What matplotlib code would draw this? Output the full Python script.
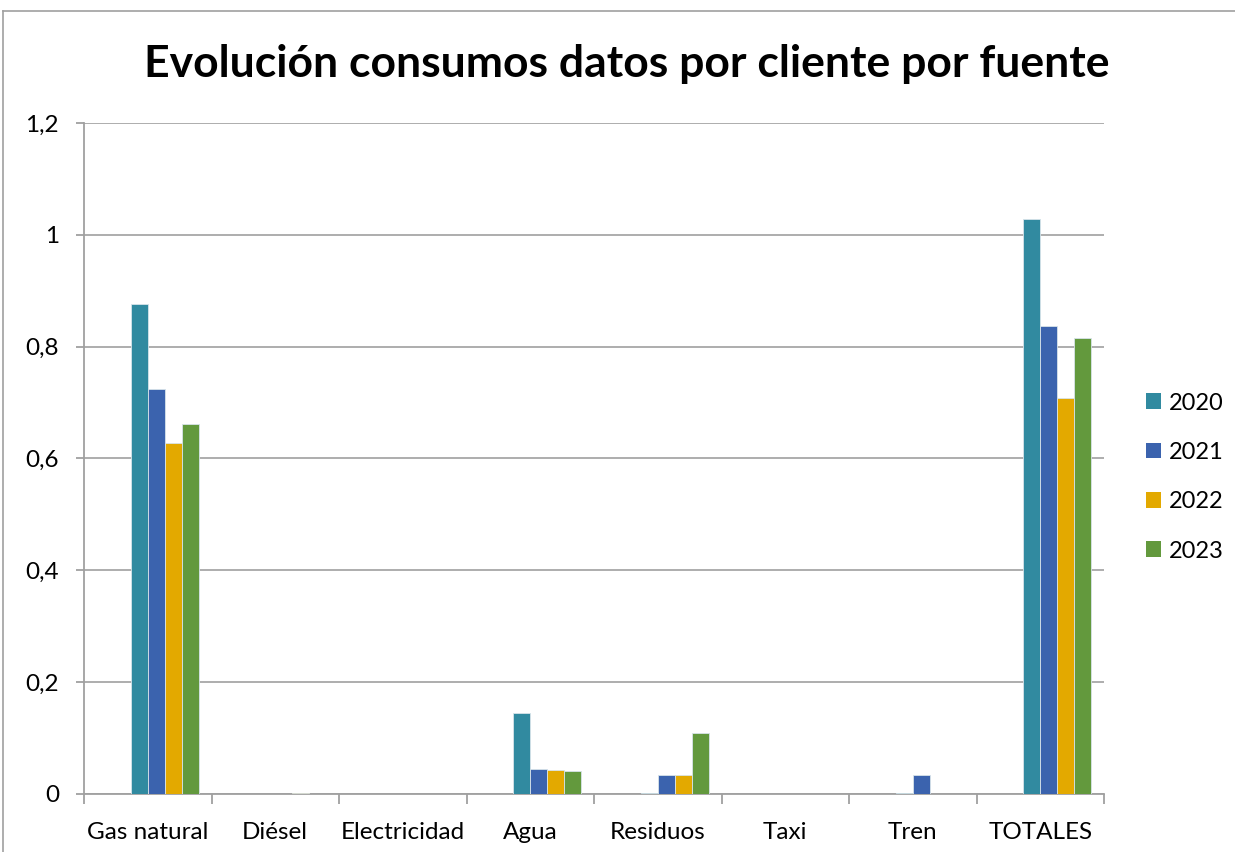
import matplotlib.pyplot as plt
from matplotlib.lines import Line2D
from matplotlib.patches import Patch
import numpy as np

# Datos
categorias = ['Gas natural', 'Diésel', 'Electricidad', 'Agua', 'Residuos', 'Taxi', 'Tren', 'TOTALES']
anios = ['2020', '2021', '2022', '2023']
v2020 = [0.877, 0.0, 0.0, 0.145, 0.002, 0.0, 0.002, 1.028]
v2021 = [0.724, 0.0, 0.0, 0.045, 0.034, 0.0, 0.034, 0.837]
v2022 = [0.628, 0.002, 0.0, 0.043, 0.034, 0.0, 0.0, 0.708]
v2023 = [0.662, 0.0, 0.0, 0.041, 0.109, 0.0, 0.0, 0.815]
series = [v2020, v2021, v2022, v2023]
colores = ['#318AA0', '#3B63AE', '#E3A900', '#63993D']
yticks = [0, 0.2, 0.4, 0.6, 0.8, 1, 1.2]
yticklabels = ['0', '0,2', '0,4', '0,6', '0,8', '1', '1,2']

plt.rcParams['font.family'] = ['Lato', 'DejaVu Sans']

W, H = 1235, 852
fig = plt.figure(figsize=(W / 100, H / 100), dpi=100)
ax = fig.add_axes([84 / W, 1 - 794 / H, (1104 - 84) / W, (794 - 123) / H])

# 6 huecos de serie (los dos primeros vacíos), hueco 150%
x = np.arange(len(categorias))
ancho = 1 / 7.5
for k, (vals, c) in enumerate(zip(series, colores)):
    desplaz = (k + 2 - 2.5) * ancho
    ax.bar(x + desplaz, vals, width=ancho, color=c, edgecolor='#D8E4EA',
           linewidth=0.6, zorder=3)

ax.set_xlim(-0.5, len(categorias) - 0.5)
ax.set_ylim(0, 1.2)
ax.set_yticks(yticks)
ax.set_yticklabels(yticklabels, fontsize=17.5)
ax.set_xticks(x)
ax.set_xticklabels(categorias, fontsize=17.5)
ax.tick_params(axis='x', length=0, pad=20)
ax.set_xticks(np.arange(-0.5, len(categorias)), minor=True)
ax.tick_params(axis='x', which='minor', length=7, color='#A0A0A0', width=1.3)
ax.tick_params(axis='y', length=6, color='#A0A0A0', width=1.3, pad=12)

ax.grid(axis='y', color='#A0A0A0', linewidth=1.2, zorder=0)
for s in ['top', 'right']:
    ax.spines[s].set_visible(False)
for s in ['left', 'bottom']:
    ax.spines[s].set_color('#A0A0A0')
    ax.spines[s].set_linewidth(1.3)

fig.text(627 / W, 1 - 64 / H, 'Evolución consumos datos por cliente por fuente',
         ha='center', va='center', fontsize=32, fontweight='bold')

# Leyenda
handles = [Patch(facecolor=c, edgecolor='none') for c in colores]
fig.legend(handles, anios, loc='center left', bbox_to_anchor=(1146 / W, 1 - 477 / H),
           frameon=False, fontsize=17, handlelength=0.65, handleheight=0.65,
           labelspacing=1.2, handletextpad=0.3, borderpad=0, borderaxespad=0)

# Borde del área del gráfico
fig.add_artist(Line2D([3 / W, 1], [1 - 11 / H, 1 - 11 / H], color='#A0A0A0', lw=1.2))
fig.add_artist(Line2D([3 / W, 3 / W], [0, 1 - 11 / H], color='#A0A0A0', lw=1.2))

fig.savefig('out.png', dpi=100)
